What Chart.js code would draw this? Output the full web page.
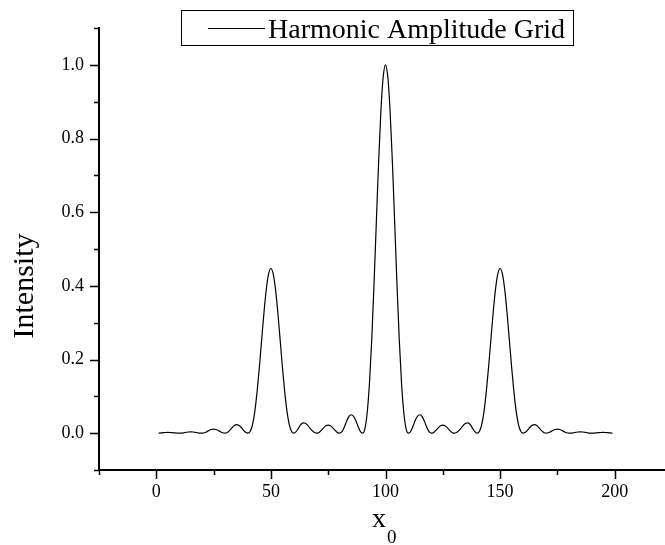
<!DOCTYPE html>
<html>
<head>
<meta charset="utf-8">
<script src="https://cdn.jsdelivr.net/npm/chart.js@4.4.0/dist/chart.umd.min.js"></script>
<style>
  html, body { margin: 0; padding: 0; background: #fff; overflow: hidden; }
  #wrap { width: 665px; height: 545px; overflow: hidden; position: relative; }
  canvas { position: absolute; left: 0; top: 0; }
</style>
</head>
<body>
<div id="wrap">
  <canvas id="chart" width="674" height="545"></canvas>
</div>
<script>
// sample positions (x0)
const xValues = [
  1, 2, 3, 4, 5, 6, 7, 8, 9, 10, 11, 12, 13, 14, 15, 16, 17, 18, 19, 20,
  21, 22, 23, 24, 25, 26, 27, 28, 29, 30, 31, 32, 33, 34, 35, 36, 37, 38, 39, 40,
  41, 42, 43, 44, 45, 46, 47, 48, 49, 50, 51, 52, 53, 54, 55, 56, 57, 58, 59, 60,
  61, 62, 63, 64, 65, 66, 67, 68, 69, 70, 71, 72, 73, 74, 75, 76, 77, 78, 79, 80,
  81, 82, 83, 84, 85, 86, 87, 88, 89, 90, 91, 92, 93, 94, 95, 96, 97, 98, 99, 100,
  101, 102, 103, 104, 105, 106, 107, 108, 109, 110, 111, 112, 113, 114, 115, 116, 117, 118, 119, 120,
  121, 122, 123, 124, 125, 126, 127, 128, 129, 130, 131, 132, 133, 134, 135, 136, 137, 138, 139, 140,
  141, 142, 143, 144, 145, 146, 147, 148, 149, 150, 151, 152, 153, 154, 155, 156, 157, 158, 159, 160,
  161, 162, 163, 164, 165, 166, 167, 168, 169, 170, 171, 172, 173, 174, 175, 176, 177, 178, 179, 180,
  181, 182, 183, 184, 185, 186, 187, 188, 189, 190, 191, 192, 193, 194, 195, 196, 197, 198, 199
];

// intensity, one value per sample above
const intensity = [
  0.0002, 0.0007, 0.0013, 0.0018, 0.002, 0.0018, 0.0013, 0.0007, 0.0002, 0,
  0.0003, 0.0012, 0.0023, 0.0032, 0.0035, 0.0032, 0.0023, 0.0012, 0.0003, 0,
  0.001, 0.0038, 0.0072, 0.01, 0.011, 0.01, 0.0072, 0.0038, 0.001, 0,
  0.002, 0.0075, 0.0145, 0.0205, 0.023, 0.0215, 0.016, 0.0085, 0.0022, 0,
  0.005, 0.024, 0.06, 0.114, 0.181, 0.256, 0.329, 0.391, 0.4325, 0.447,
  0.4325, 0.391, 0.329, 0.256, 0.181, 0.114, 0.06, 0.024, 0.005, 0,
  0.004, 0.013, 0.023, 0.028, 0.027, 0.022, 0.014, 0.007, 0.002, 0,
  0.0021, 0.0076, 0.0144, 0.0199, 0.022, 0.0199, 0.0144, 0.0076, 0.0021, 0,
  0.004, 0.016, 0.032, 0.045, 0.05, 0.046, 0.035, 0.019, 0.005, 0,
  0.0119, 0.0547, 0.1353, 0.2546, 0.4053, 0.5728, 0.7368, 0.8751, 0.9675, 1.0,
  0.9675, 0.8751, 0.7368, 0.5728, 0.4053, 0.2546, 0.1353, 0.0547, 0.0119, 0,
  0.005, 0.019, 0.035, 0.046, 0.05, 0.045, 0.032, 0.016, 0.004, 0,
  0.0021, 0.0076, 0.0144, 0.0199, 0.022, 0.0199, 0.0144, 0.0076, 0.0021, 0,
  0.002, 0.007, 0.014, 0.022, 0.027, 0.028, 0.023, 0.013, 0.004, 0,
  0.005, 0.024, 0.06, 0.114, 0.181, 0.256, 0.329, 0.391, 0.4325, 0.447,
  0.4325, 0.391, 0.329, 0.256, 0.181, 0.114, 0.06, 0.024, 0.005, 0,
  0.0022, 0.0085, 0.016, 0.0215, 0.023, 0.0205, 0.0145, 0.0075, 0.002, 0,
  0.001, 0.0038, 0.0072, 0.01, 0.011, 0.01, 0.0072, 0.0038, 0.001, 0,
  0.0003, 0.0012, 0.0023, 0.0032, 0.0035, 0.0032, 0.0023, 0.0012, 0.0003, 0,
  0.0002, 0.0007, 0.0013, 0.0018, 0.002, 0.0018, 0.0013, 0.0007, 0.0002
];

const seriesName = 'Harmonic Amplitude Grid';
const xTickLabels = [0, 50, 100, 150, 200];
const yTickLabels = [0.0, 0.2, 0.4, 0.6, 0.8, 1.0];

const serif = '"Liberation Serif", "Times New Roman", serif';

const points = xValues.map((x, i) => ({ x: x, y: intensity[i] }));

// Origin-like decorations: outward ticks (major/minor), axis titles, boxed legend
const decorations = {
  id: 'decorations',
  afterDraw(chart) {
    const ctx = chart.ctx;
    const area = chart.chartArea;
    const xs = chart.scales.x;
    const ys = chart.scales.y;
    ctx.save();
    ctx.strokeStyle = '#000';
    ctx.lineWidth = 1.5;

    // y ticks
    ys.ticks.forEach(t => {
      const py = Math.round(ys.getPixelForValue(t.value)) + 0.5;
      const major = yTickLabels.some(v => Math.abs(v - t.value) < 1e-6);
      const len = major ? 9 : 5;
      ctx.beginPath();
      ctx.moveTo(area.left, py);
      ctx.lineTo(area.left - len, py);
      ctx.stroke();
    });
    // x ticks
    xs.ticks.forEach(t => {
      const px = Math.round(xs.getPixelForValue(t.value)) + 0.5;
      const major = xTickLabels.includes(t.value);
      const len = major ? 9 : 5;
      ctx.beginPath();
      ctx.moveTo(px, area.bottom);
      ctx.lineTo(px, area.bottom + len);
      ctx.stroke();
    });

    ctx.fillStyle = '#000';

    // y title
    ctx.save();
    ctx.translate(33, 286);
    ctx.rotate(-Math.PI / 2);
    ctx.font = '30px ' + serif;
    ctx.textAlign = 'center';
    ctx.textBaseline = 'alphabetic';
    ctx.fillText('Intensity', 0, 0);
    ctx.restore();

    // x title with subscript
    ctx.textAlign = 'left';
    ctx.textBaseline = 'alphabetic';
    ctx.font = '28px ' + serif;
    ctx.fillText('x', 372, 527);
    ctx.font = '19px ' + serif;
    ctx.fillText('0', 387, 543);

    // legend
    ctx.lineWidth = 1;
    ctx.strokeRect(181.5, 10.5, 392, 35);
    ctx.beginPath();
    ctx.moveTo(208, 28.5);
    ctx.lineTo(265, 28.5);
    ctx.stroke();
    ctx.font = '28px ' + serif;
    ctx.fillText(seriesName, 268, 38);

    ctx.restore();
  }
};

new Chart(document.getElementById('chart'), {
  type: 'line',
  data: {
    datasets: [{
      label: seriesName,
      data: points,
      borderColor: '#000',
      borderWidth: 1.2,
      pointRadius: 0,
      cubicInterpolationMode: 'monotone',
      fill: false
    }]
  },
  options: {
    responsive: false,
    animation: false,
    layout: { padding: { top: 28, right: 0, left: 0, bottom: 0 } },
    plugins: {
      legend: { display: false },
      tooltip: { enabled: false }
    },
    scales: {
      x: {
        type: 'linear',
        min: -25,
        max: 225,
        afterFit: scale => { scale.height = 75; },
        border: { display: true, color: '#000', width: 2 },
        grid: { display: true, drawOnChartArea: false, drawTicks: true, tickLength: 9, color: 'rgba(0,0,0,0)' },
        ticks: {
          stepSize: 25,
          padding: 2,
          maxRotation: 0,
          autoSkip: false,
          color: '#000',
          font: { family: serif, size: 18 },
          callback: v => xTickLabels.includes(v) ? String(v) : ''
        }
      },
      y: {
        type: 'linear',
        min: -0.1,
        max: 1.1,
        afterFit: scale => { scale.width = 99; },
        border: { display: true, color: '#000', width: 2 },
        grid: { display: true, drawOnChartArea: false, drawTicks: true, tickLength: 9, color: 'rgba(0,0,0,0)' },
        ticks: {
          stepSize: 0.1,
          padding: 6,
          autoSkip: false,
          color: '#000',
          font: { family: serif, size: 18 },
          callback: v => {
            const hit = yTickLabels.find(t => Math.abs(t - v) < 1e-6);
            return hit !== undefined ? hit.toFixed(1) : '';
          }
        }
      }
    }
  },
  plugins: [decorations]
});
</script>
</body>
</html>
